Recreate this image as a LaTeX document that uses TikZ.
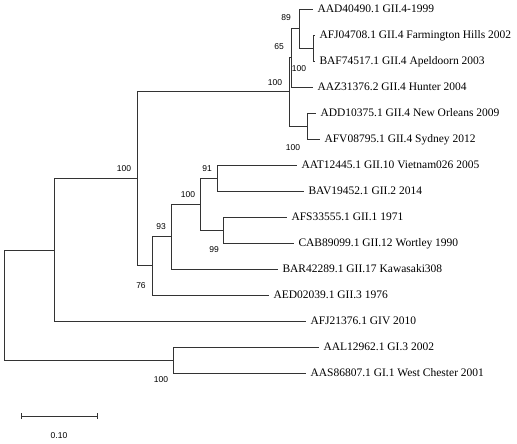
\documentclass[tikz,border=0pt]{standalone}
\usepackage{fontspec}
\setmainfont{Liberation Serif}
\newfontfamily\bootfont{Liberation Sans}
\usetikzlibrary{arrows.meta,positioning}

\begin{document}
\begin{tikzpicture}[x=1pt, y=-1pt,
  branch/.style={draw=black!80, line width=0.8pt},
  taxon/.style={anchor=west, inner sep=1.5pt, outer sep=3pt, text height=7.7pt, text depth=0pt,
    font=\fontsize{11.5}{14}\selectfont},
  boot/.style={inner sep=0pt, font=\bootfont\fontsize{8.5}{10}\selectfont}]
 \useasboundingbox (0,0) rectangle (517,444);
 % taxa
 \node[taxon] (aad) at (313,9) {AAD40490.1 GII.4-1999};
 \node[taxon] (afj) at (315,35) {AFJ04708.1 GII.4 Farmington Hills 2002};
 \node[taxon] (baf) at (315,61) {BAF74517.1 GII.4 Apeldoorn 2003};
 \node[taxon] (aaz) at (313,87) {AAZ31376.2 GII.4 Hunter 2004};
 \node[taxon] (add) at (316,113) {ADD10375.1 GII.4 New Orleans 2009};
 \node[taxon] (afv) at (320,139) {AFV08795.1 GII.4 Sydney 2012};
 \node[taxon] (aat) at (297,165) {AAT12445.1 GII.10 Vietnam026 2005};
 \node[taxon] (bav) at (304,191) {BAV19452.1 GII.2 2014};
 \node[taxon] (afs) at (287,217) {AFS33555.1 GII.1 1971};
 \node[taxon] (cab) at (294,243) {CAB89099.1 GII.12 Wortley 1990};
 \node[taxon] (bar) at (278,269) {BAR42289.1 GII.17 Kawasaki308};
 \node[taxon] (aed) at (269,295) {AED02039.1 GII.3 1976};
 \node[taxon] (giv) at (306,321) {AFJ21376.1 GIV 2010};
 \node[taxon] (aal) at (319,347) {AAL12962.1 GI.3 2002};
 \node[taxon] (aas) at (306,373) {AAS86807.1 GI.1 West Chester 2001};
 % internal nodes
 \coordinate (e) at (313,48);
 \coordinate (d) at (299,28.5);
 \coordinate (b) at (291,57.75);
 \coordinate (c) at (307,126);
 \coordinate (a) at (289,91.9);
 \coordinate (n6) at (217,178);
 \coordinate (n7) at (223,230);
 \coordinate (n5) at (200,204);
 \coordinate (n4) at (171,236.5);
 \coordinate (n3) at (152,265.75);
 \coordinate (n2) at (137,178.8);
 \coordinate (n1) at (54,249.9);
 \coordinate (g) at (173,360);
 \coordinate (root) at (4,304.95);
 % branches
 \draw[branch] (e) |- (afj.west) (e) |- (baf.west);
 \draw[branch] (d) |- (aad.west) (d) |- (e);
 \draw[branch] (b) |- (d) (b) |- (aaz.west);
 \draw[branch] (c) |- (add.west) (c) |- (afv.west);
 \draw[branch] (a) |- (b) (a) |- (c);
 \draw[branch] (n6) |- (aat.west) (n6) |- (bav.west);
 \draw[branch] (n7) |- (afs.west) (n7) |- (cab.west);
 \draw[branch] (n5) |- (n6) (n5) |- (n7);
 \draw[branch] (n4) |- (n5) (n4) |- (bar.west);
 \draw[branch] (n3) |- (n4) (n3) |- (aed.west);
 \draw[branch] (n2) |- (a) (n2) |- (n3);
 \draw[branch] (n1) |- (n2) (n1) |- (giv.west);
 \draw[branch] (g) |- (aal.west) (g) |- (aas.west);
 \draw[branch] (root) |- (n1) (root) |- (g);
 % bootstrap values
 \node[boot] (bd) at (286,18) {89};
 \node[boot] (bb) at (279,47) {65};
 \node[boot] (be) at (299,69) {100};
 \node[boot] (ba) at (275,83) {100};
 \node[boot] (bc) at (293,148) {100};
 \node[boot] (bn2) at (124,169) {100};
 \node[boot] (bn6) at (207,169) {91};
 \node[boot] (bn5) at (188,195) {100};
 \node[boot] (bn4) at (161,227) {93};
 \node[boot] (bn7) at (214,250) {99};
 \node[boot] (bn3) at (141,286) {76};
 \node[boot] (bg) at (161,380) {100};
 % scale bar
 \coordinate (s0) at (21,416);
 \coordinate (s1) at (98,416);
 \draw[branch, {Bar[width=6pt]}-{Bar[width=6pt]}] (s0) -- (s1);
 \node[boot] (sl) at (59,436) {0.10};
\end{tikzpicture}
\end{document}
